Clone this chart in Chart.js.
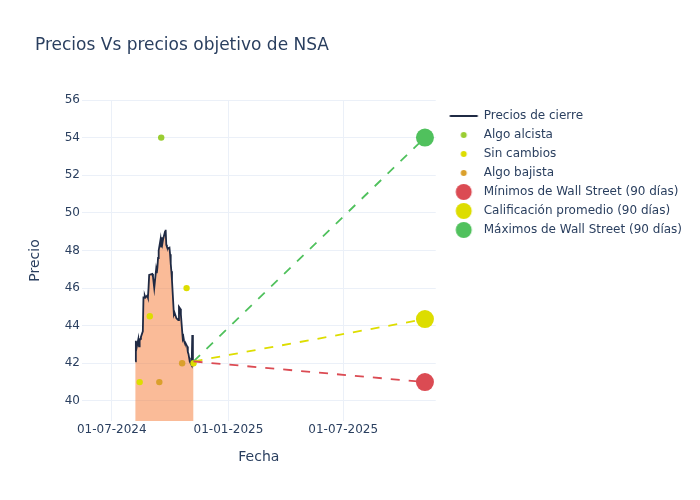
<!DOCTYPE html>
<html>
<head>
<meta charset="utf-8">
<script src="https://cdn.jsdelivr.net/npm/chart.js@4.4.1/dist/chart.umd.min.js"></script>
<style>
html,body{margin:0;padding:0;background:#ffffff;}
canvas{display:block;}
</style>
</head>
<body>
<canvas id="c" width="700" height="500"></canvas>
<script>
// ---------------- DATA ----------------
const closeDates = ['2024-08-07','2024-08-08','2024-08-09','2024-08-12','2024-08-13','2024-08-14','2024-08-15','2024-08-16','2024-08-19','2024-08-20',
  '2024-08-21','2024-08-22','2024-08-23','2024-08-26','2024-08-27','2024-08-28','2024-08-29','2024-08-30','2024-09-03','2024-09-04',
  '2024-09-05','2024-09-06','2024-09-09','2024-09-10','2024-09-11','2024-09-12','2024-09-13','2024-09-16','2024-09-17','2024-09-18',
  '2024-09-19','2024-09-20','2024-09-23','2024-09-24','2024-09-25','2024-09-26','2024-09-27','2024-09-30','2024-10-01','2024-10-02',
  '2024-10-03','2024-10-04','2024-10-07','2024-10-08','2024-10-09','2024-10-10','2024-10-11','2024-10-14','2024-10-15','2024-10-16',
  '2024-10-17','2024-10-18','2024-10-21','2024-10-22','2024-10-23','2024-10-24','2024-10-25','2024-10-28','2024-10-29','2024-10-30',
  '2024-10-31','2024-11-01','2024-11-04','2024-11-05','2024-11-06','2024-11-07'];
const closePrices = [42.1,43.2,42.8,43.3,42.9,43.2,43.3,43.4,43.7,45.5,
  45.5,45.6,45.5,45.6,45.5,46.0,46.7,46.7,46.75,46.6,
  46.3,46.0,47.0,46.8,47.1,47.6,48.0,48.6,48.2,48.7,
  48.4,48.6,49.0,49.1,48.3,48.2,48.1,48.15,47.8,47.3,
  46.9,46.4,44.6,44.7,44.6,44.6,44.4,44.3,45.0,44.95,
  44.9,44.6,43.3,43.4,43.2,43.1,43.1,42.9,42.6,42.5,
  42.3,42.1,41.9,43.5,41.85,42.1];

const alcistaDates = ['2024-09-17'];
const alcistaValues = [54];
const sinCambiosDates = ['2024-08-14','2024-08-30','2024-10-27','2024-11-07'];
const sinCambiosValues = [41, 44.5, 46, 42];
const bajistaDates = ['2024-09-14','2024-10-20'];
const bajistaValues = [41, 42];

const targetDate = '2025-11-07';
const targetLabels = ['Mínimos de Wall Street (90 días)','Calificación promedio (90 días)','Máximos de Wall Street (90 días)'];
const targetValues = [41.0, 44.35, 54.0];

const seriesLabels = ['Precios de cierre','Algo alcista','Sin cambios','Algo bajista'];

const xTickDates = ['2024-07-01','2025-01-01','2025-07-01'];
const xTickLabels = ['01-07-2024','01-01-2025','01-07-2025'];
const yTicks = [40,42,44,46,48,50,52,54,56];

// ---------------- HELPERS ----------------
const ORIGIN = Date.UTC(2024,6,1);
function day(s){ return (Date.parse(s+'T00:00:00Z') - ORIGIN)/86400000; }
function pts(dates, vals){ return dates.map((d,i)=>({x:day(d), y:vals[i]})); }

const TEXT = '#2a3f5f';
const GRID = '#EBF0F8';
const COL = {
  line:'#1f2a44', fill:'rgba(246,120,50,0.5)',
  alcista:'#9ACD32', sin:'#DDDD00', bajista:'#DAA02C',
  min:'#DB4B53', avg:'#DDDD00', max:'#50C15D'
};

Chart.defaults.font.family = "'DejaVu Sans', sans-serif";
Chart.defaults.color = TEXT;

function sym(kind, color, r){
  const c = document.createElement('canvas');
  c.width = 42; c.height = 20;
  const g = c.getContext('2d');
  const cx = 24.5, cy = 10;
  if (kind === 'line'){
    g.strokeStyle = color; g.lineWidth = 2;
    g.beginPath(); g.moveTo(cx-14, cy); g.lineTo(cx+14, cy); g.stroke();
  } else {
    g.fillStyle = color;
    g.beginPath(); g.arc(cx, cy, r, 0, Math.PI*2); g.fill();
  }
  return c;
}

const lastX = day(closeDates[closeDates.length-1]);
const lastY = closePrices[closePrices.length-1];
const targetColors = [COL.min, COL.avg, COL.max];

const datasets = [
  { label: seriesLabels[0], data: pts(closeDates, closePrices), borderColor: COL.line, borderWidth: 1.8,
    backgroundColor: COL.fill, fill: 'start', pointRadius: 0, tension: 0, order: 10 },
  { label: seriesLabels[1], data: pts(alcistaDates, alcistaValues), showLine:false, pointRadius: 3.2,
    pointBackgroundColor: COL.alcista, pointBorderWidth: 0, order: 2 },
  { label: seriesLabels[2], data: pts(sinCambiosDates, sinCambiosValues), showLine:false, pointRadius: 3.2,
    pointBackgroundColor: COL.sin, pointBorderWidth: 0, order: 2 },
  { label: seriesLabels[3], data: pts(bajistaDates, bajistaValues), showLine:false, pointRadius: 3.2,
    pointBackgroundColor: COL.bajista, pointBorderWidth: 0, order: 2 }
];
targetLabels.forEach((lab, i) => {
  datasets.push({ label: lab, data: [{x:lastX, y:lastY}, {x:day(targetDate), y:targetValues[i]}],
    borderColor: targetColors[i], borderWidth: 1.8, borderDash: [9,9], fill: false, tension: 0,
    pointRadius: [0, 9], pointBackgroundColor: targetColors[i], pointBorderWidth: 0, order: 1 });
});

const legendSyms = [
  sym('line', COL.line), sym('dot', COL.alcista, 3), sym('dot', COL.sin, 3), sym('dot', COL.bajista, 3),
  sym('dot', COL.min, 8), sym('dot', COL.avg, 8), sym('dot', COL.max, 8)
];
const legendTexts = seriesLabels.concat(targetLabels);

new Chart(document.getElementById('c'), {
  type: 'line',
  data: { datasets },
  options: {
    responsive: false,
    animation: false,
    events: [],
    layout: { padding: { left: 35, right: 8, top: 0, bottom: 0 } },
    plugins: {
      tooltip: { enabled: false },
      title: { display: true, text: 'Precios Vs precios objetivo de NSA', align: 'start', color: TEXT,
        font: { size: 17, weight: 'normal' }, padding: { top: 35.8, bottom: 43.8 } },
      legend: {
        position: 'right', align: 'start', fullSize: false, maxWidth: 320,
        onClick: null,
        title: { display: true, text: '', font: { size: 1, lineHeight: 1 }, padding: { top: 2, bottom: 0 } },
        labels: {
          usePointStyle: true, pointStyleWidth: 35, padding: 7, color: TEXT, font: { size: 12 },
          generateLabels: () => legendTexts.map((t, i) => ({
            text: t, pointStyle: legendSyms[i], fillStyle: 'rgba(0,0,0,0)', strokeStyle: 'rgba(0,0,0,0)',
            lineWidth: 0, hidden: false, datasetIndex: i, fontColor: TEXT
          }))
        }
      }
    },
    scales: {
      x: {
        type: 'linear', min: day('2024-05-15'), max: day('2025-11-24'),
        afterBuildTicks: s => { s.ticks = xTickDates.map(d => ({ value: day(d) })); },
        ticks: { callback: (v, i) => xTickLabels[i], autoSkip: false, maxRotation: 0, padding: 2, color: TEXT, font: { size: 12 } },
        grid: { color: GRID, drawTicks: false, lineWidth: 1 },
        border: { display: false },
        title: { display: true, text: 'Fecha', color: TEXT, font: { size: 14 }, padding: { top: 9.2, bottom: 34.6 } }
      },
      y: {
        min: 38.933, max: 56,
        afterBuildTicks: s => { s.ticks = yTicks.map(v => ({ value: v })); },
        ticks: { padding: 2, color: TEXT, font: { size: 12 } },
        grid: { color: GRID, drawTicks: false, lineWidth: 1 },
        border: { display: false },
        title: { display: true, text: 'Precio', color: TEXT, font: { size: 14 }, padding: { top: -8.4, bottom: 19.3 } }
      }
    }
  }
});
</script>
</body>
</html>
